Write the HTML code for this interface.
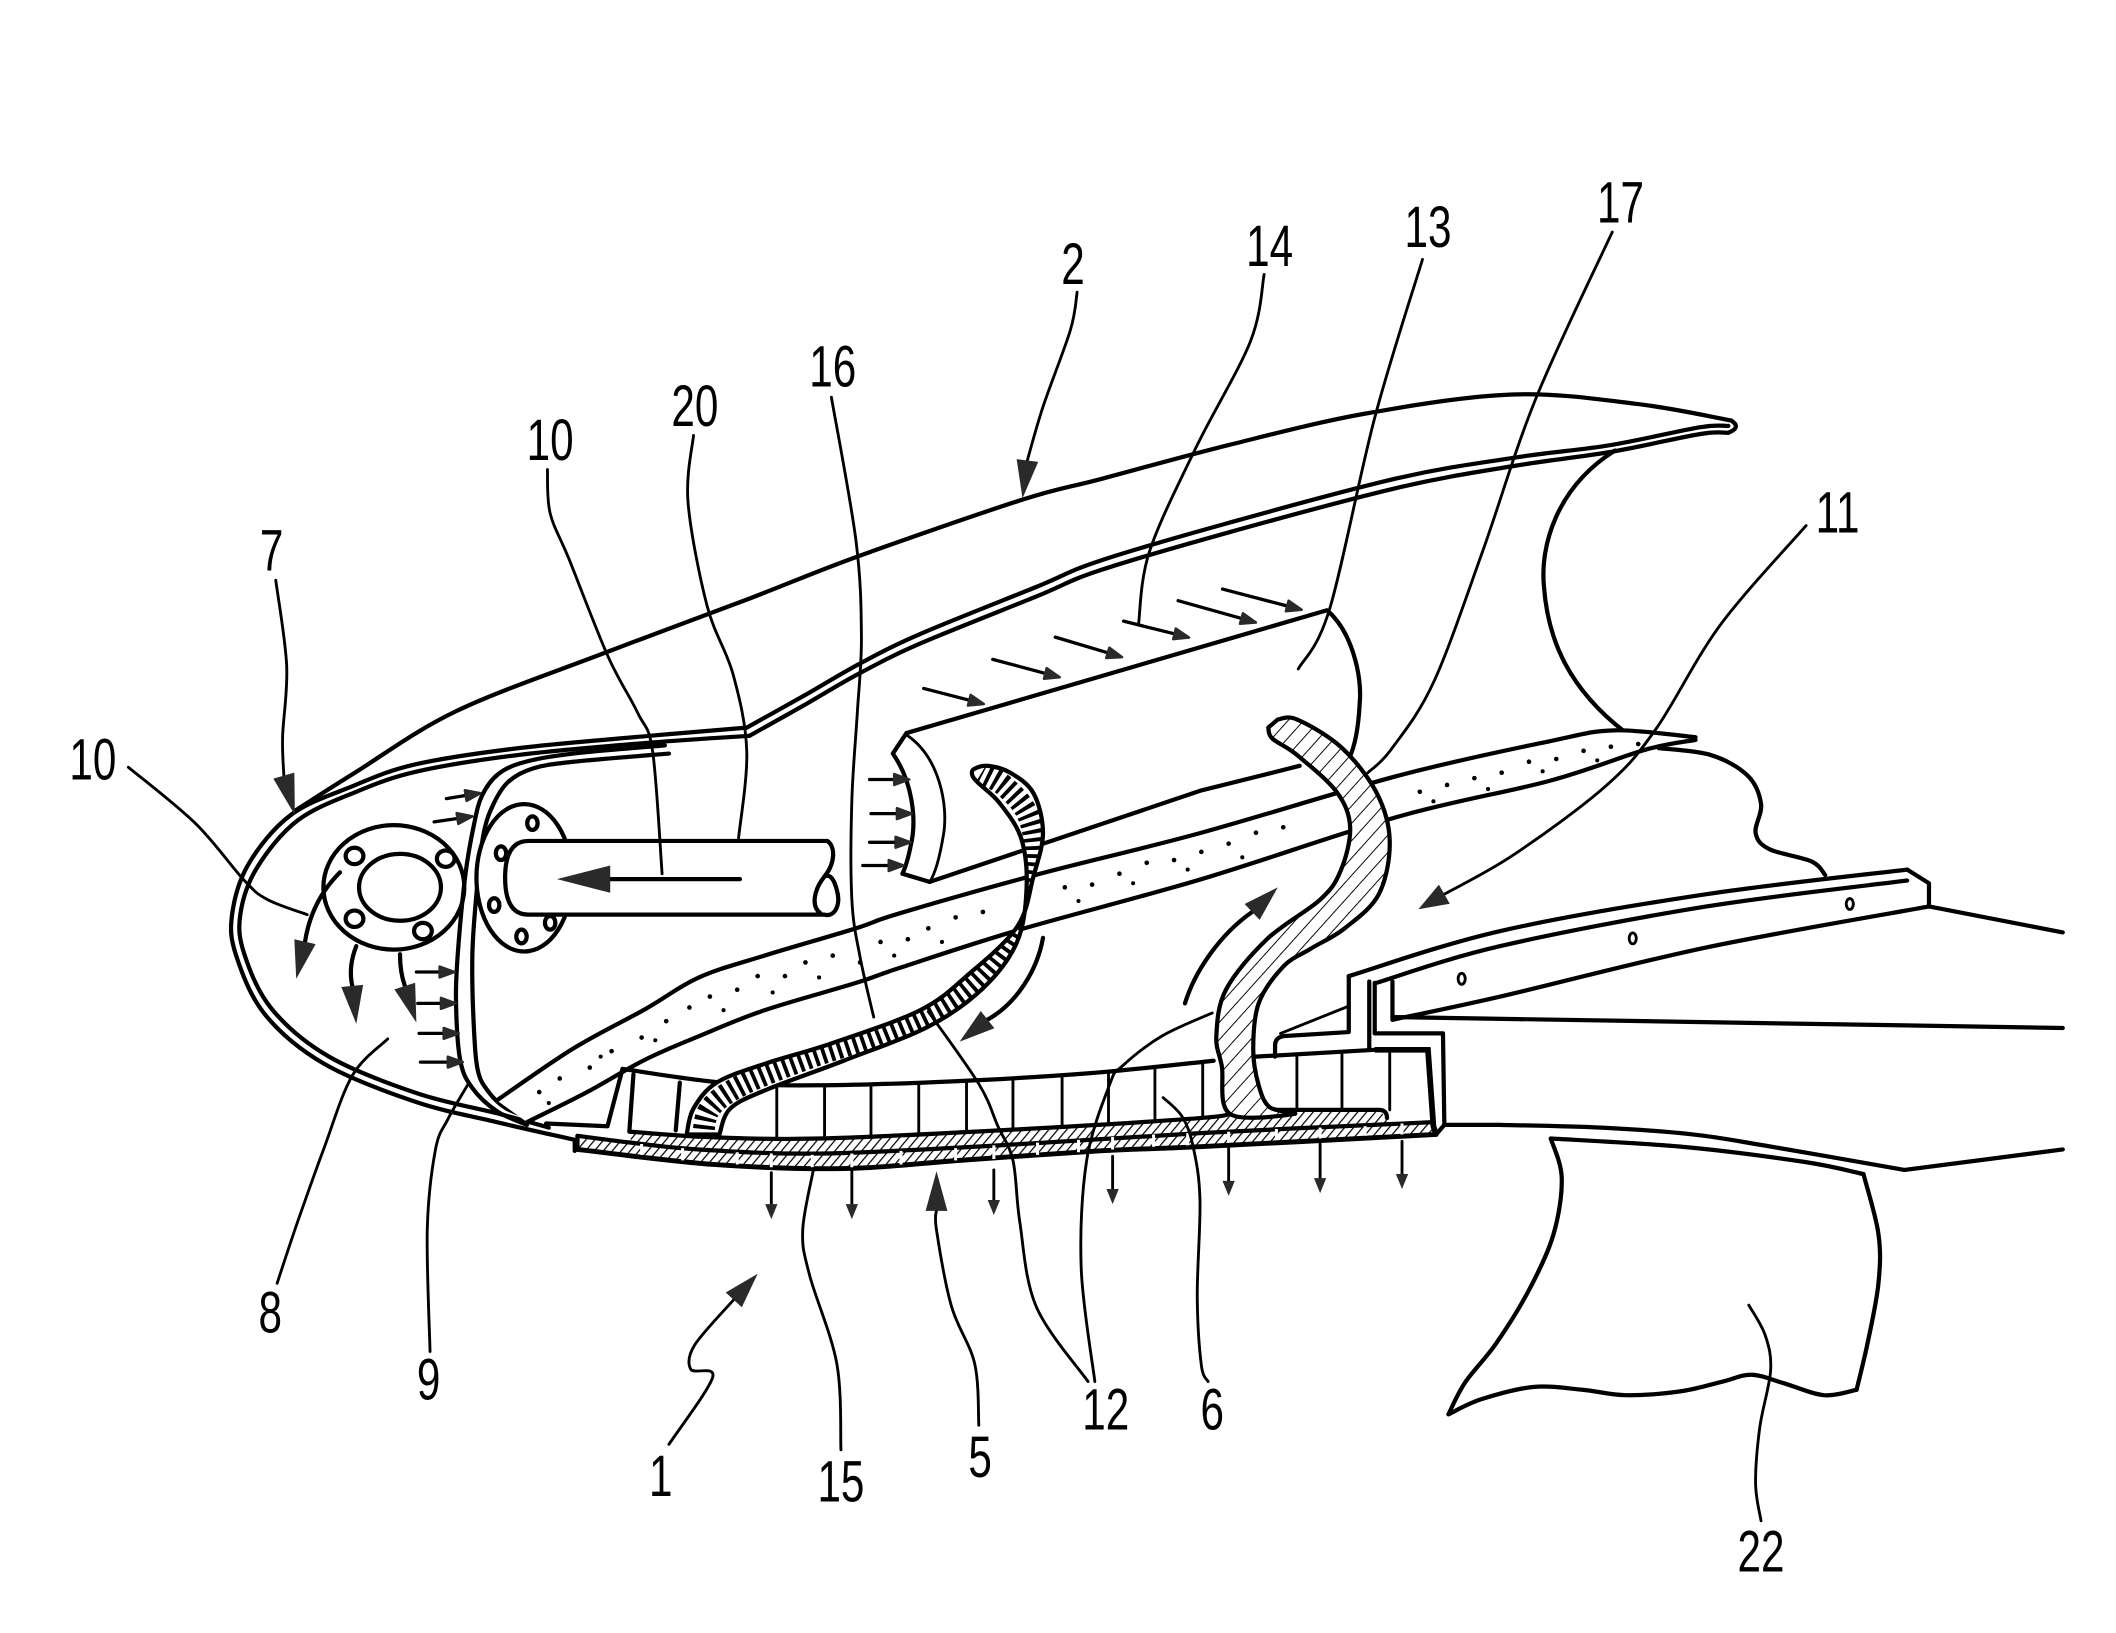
<!DOCTYPE html>
<html><head><meta charset="utf-8"><style>
html,body{margin:0;padding:0;background:#fff;}
svg{display:block;}
.k{fill:none;stroke:#000;stroke-width:3.1;stroke-linejoin:round;stroke-linecap:round;}
.t{fill:none;stroke:#000;stroke-width:2.1;stroke-linejoin:round;stroke-linecap:round;}
.f{fill:#2a2a2a;stroke:none;}
.f2{fill:#2a2a2a;stroke:#2a2a2a;stroke-width:1.8;stroke-linejoin:round;}
.lb{font-family:"Liberation Sans",Arial,sans-serif;font-size:43px;fill:#000;}
</style></head><body>
<svg xmlns="http://www.w3.org/2000/svg" width="2116" height="1633" viewBox="0 0 1550 1196.2" preserveAspectRatio="none">
<defs>
<pattern id="hp" width="5" height="5" patternUnits="userSpaceOnUse" patternTransform="rotate(40)"><rect width="5" height="5" fill="#fff"/><line x1="0" y1="0" x2="0" y2="5" stroke="#000" stroke-width="1.8"/></pattern>
<pattern id="hs" width="8.5" height="8.5" patternUnits="userSpaceOnUse" patternTransform="rotate(42)"><rect width="8.5" height="8.5" fill="#fff"/><line x1="0" y1="0" x2="0" y2="8.5" stroke="#000" stroke-width="1.4"/></pattern>
<clipPath id="c16"><path class="s z" d="M503,831 L508,812 L525,793 L561,779 L610,764 L674,740 L708,715 L745,679 L757,642 L764,610 L757,581 L740,566 L724,561 L714,563 L712,567 L716,573 L732,588 L748,614 L752,650 L745,690 L720,724 L680,752 L618,777 L562,798 L535,812 L527,831 Z"/></clipPath>
</defs>
<rect width="1550" height="1196.2" fill="#fff"/>

<!-- upper nacelle -->
<path class="k s" d="M216,594 L260,566 L334,521 L441,479 L545,440 L630,407 L749,366 L806,351 L900,326 L1000,303 L1108,289 L1200,296 L1268,308"/>
<path class="k" d="M1268,308 Q1276,313 1266,317"/>
<path class="k s" d="M1266,312 L1245,313 L1180,326 L1111,335 L1025,350 L900,383 L805,411 L759,430 L675,464 L630,486 L590,509 L547,533"/>
<path class="k s" d="M547,533 L476,539 L380,548 L304,560 L258,576 L213,597 L182,633 L170,670 L173,700 L194,743 L237,779 L304,807 L364,822 L421,835"/>
<path class="k s" d="M1266,317 L1245,318 L1180,331 L1111,341 L1025,357 L900,390 L805,418 L759,437 L675,471 L630,493 L590,516 L549,539"/>
<path class="k s" d="M549,539 L476,544 L380,553 L306,565 L261,580 L218,601 L188,636 L176,670 L179,699 L199,739 L241,774 L306,801 L366,816 L402,826"/>
<path class="k" d="M421,835 L421,843"/>
<path class="k s" d="M487,546 L420,552 L385,558 L365,567 L353,583 L347,605 L341,640 L336,690 L334,731 L337,776 L346,797 L364,814 L386,824"/>
<path class="k s" d="M490,552 L420,558 L390,563 L372,573 L361,590 L354,612 L349,655 L346,700 L347,750 L350,784 L358,800 L371,812 L390,819"/>
<path class="k" d="M1183,330 C1140,357 1128,400 1131,430 C1134,470 1150,505 1190,536"/>

<!-- left flange -->
<ellipse cx="288.5" cy="650" rx="51.6" ry="45.6" class="k"/>
<ellipse cx="293" cy="650" rx="30" ry="24.5" class="k"/>
<ellipse cx="259.7" cy="627" rx="6.5" ry="6" class="k"/>
<ellipse cx="326.5" cy="629" rx="6.5" ry="6" class="k"/>
<ellipse cx="259.7" cy="673" rx="6.5" ry="6" class="k"/>
<ellipse cx="309.8" cy="682" rx="6.5" ry="6" class="k"/>
<!-- nose flow arrows -->
<path class="k" d="M249,639 Q228,660 223.4,690"/>
<polygon class="f" points="217,717 231.2,691.6 215.6,688"/>
<path class="k" d="M261,693 Q255,708 258,722"/>
<polygon class="f" points="261,750 266,721.4 250,723"/>
<path class="k" d="M293,699 Q293,712 296.5,722"/>
<polygon class="f" points="305,749 304.1,719.9 288.9,724.7"/>
<!-- feather arrows at bulkhead -->
<g class="t" style="stroke-width:2.4">
<path d="M327,585 L341,582.7"/><path d="M318,602 L335,599.6"/>
<path d="M305,712 L322,712"/><path d="M306,735 L323,735"/><path d="M307,757 L325,757"/><path d="M308,778 L328,778"/>
</g>
<g class="f2">
<polygon points="352,581 341.8,586.7 340.5,578.8"/><polygon points="346,598 335.7,603.5 334.5,595.6"/>
<polygon points="333,712 322,708 322,716"/><polygon points="334,735 323,731 323,739"/><polygon points="336,757 325,753 325,761"/><polygon points="339,778 328,774 328,782"/>
</g>

<!-- pipe flange & pipe -->
<ellipse cx="384" cy="643" rx="35" ry="54" class="k" style="fill:#fff"/>
<g class="k">
<ellipse cx="390" cy="603" rx="3.8" ry="5"/><ellipse cx="367" cy="625" rx="3.8" ry="5"/><ellipse cx="362" cy="663" rx="3.8" ry="5"/><ellipse cx="382" cy="686" rx="3.8" ry="5"/><ellipse cx="403" cy="676" rx="3.8" ry="5"/>
</g>
<path class="k" style="fill:#fff" d="M606,616 L387,616 Q370,616 370,643 Q370,670 387,670 L604,670 C612,672 616,662 613,652 C611,644 608,640 604,642 C596,652 594,664 601,669"/>
<path class="k" d="M606,616 C612,620 612,632 604,642"/>
<path class="k" d="M542,644 L447,644"/>
<polygon class="f" points="408,644 447,634 447,654"/>

<!-- dotted band -->
<path fill="#fff" stroke="none" d="M364,806 L420,768 L473,739 L512,716 L560,700 L627,680 L659,669 L762,640 L880,610 L1025,568 L1135,543 L1183,535 L1242,540 L1206,549 L1135,572 L1025,598 L880,644 L747,681 L659,709 L627,720 L560,740 L512,759 L473,776 L430,800 L386,822 Z"/>
<path class="k s" d="M364,806 L420,768 L473,739 L512,716 L560,700 L627,680 L659,669 L762,640 L880,610 L1025,568 L1135,543 L1183,535 L1242,540"/>
<path class="k s" d="M386,822 L430,800 L473,776 L512,759 L560,740 L627,720 L659,709 L747,681 L880,644 L1025,598 L1135,572 L1206,549 L1242,542"/>
<g fill="#000">
<circle cx="395" cy="800" r="1.7"/><circle cx="410" cy="790" r="1.7"/><circle cx="432" cy="782" r="1.7"/><circle cx="448" cy="770" r="1.7"/><circle cx="470" cy="760" r="1.7"/><circle cx="488" cy="748" r="1.7"/><circle cx="505" cy="738" r="1.7"/><circle cx="520" cy="730" r="1.7"/><circle cx="540" cy="725" r="1.7"/><circle cx="555" cy="715" r="1.7"/><circle cx="575" cy="715" r="1.7"/><circle cx="590" cy="705" r="1.7"/><circle cx="610" cy="700" r="1.7"/><circle cx="630" cy="705" r="1.7"/><circle cx="645" cy="690" r="1.7"/><circle cx="665" cy="688" r="1.7"/><circle cx="680" cy="680" r="1.7"/><circle cx="700" cy="672" r="1.7"/><circle cx="720" cy="668" r="1.7"/><circle cx="780" cy="650" r="1.7"/><circle cx="800" cy="648" r="1.7"/><circle cx="820" cy="640" r="1.7"/><circle cx="840" cy="632" r="1.7"/><circle cx="860" cy="630" r="1.7"/><circle cx="880" cy="624" r="1.7"/><circle cx="900" cy="618" r="1.7"/><circle cx="920" cy="610" r="1.7"/><circle cx="940" cy="606" r="1.7"/><circle cx="1040" cy="580" r="1.7"/><circle cx="1060" cy="575" r="1.7"/><circle cx="1080" cy="570" r="1.7"/><circle cx="1100" cy="566" r="1.7"/><circle cx="1120" cy="558" r="1.7"/><circle cx="1140" cy="556" r="1.7"/><circle cx="1160" cy="550" r="1.7"/><circle cx="1180" cy="547" r="1.7"/><circle cx="1200" cy="545" r="1.7"/>
<circle cx="402" cy="808" r="1.5"/><circle cx="440" cy="774" r="1.5"/><circle cx="480" cy="762" r="1.5"/><circle cx="530" cy="740" r="1.5"/><circle cx="566" cy="727" r="1.5"/><circle cx="600" cy="716" r="1.5"/><circle cx="655" cy="700" r="1.5"/><circle cx="690" cy="690" r="1.5"/><circle cx="790" cy="660" r="1.5"/><circle cx="830" cy="647" r="1.5"/><circle cx="870" cy="637" r="1.5"/><circle cx="910" cy="628" r="1.5"/><circle cx="1050" cy="587" r="1.5"/><circle cx="1090" cy="578" r="1.5"/><circle cx="1130" cy="565" r="1.5"/><circle cx="1170" cy="557" r="1.5"/>
</g>
<path class="k s" d="M1215,548 L1253,553 L1280,568 L1290,589 L1286,610 L1296,622 L1327,631 L1337,641"/>

<!-- cylinder 13 -->
<path fill="#fff" stroke="none" d="M664,537 L972,447 C990,462 998,495 996,515 C995,535 992,548 988,556 L950,562 L880,579 L765,613 L681,646 L661,641 C668,620 672,590 655,552 Z"/>
<path class="k" d="M664,537 L972,447 C990,462 998,495 996,515 C995,535 992,548 988,556"/>
<path class="k" d="M681,646 L880,579 L952,561"/>
<path class="k" d="M664,537 L654,552 C668,572 672,600 667,620 C665,630 663,636 661,640 L681,646"/>
<path class="t" d="M665,539 C688,555 695,590 691,612 C688,630 685,640 681,646"/>
<!-- arrows 14 -->
<g class="t" style="stroke-width:2.4">
<path d="M676.6,504.3 L710,512.9"/><path d="M727.2,483 L765.7,493.3"/><path d="M773,466.7 L811.5,478.2"/><path d="M823,455 L860.3,464.3"/><path d="M863,440 L909.4,453"/><path d="M895.5,431.5 L942.9,443.9"/>
<path d="M637,571 L655,571"/><path d="M638,596 L657,596"/><path d="M637,617 L656,617"/><path d="M632,634 L651,634"/>
</g>
<g class="f2">
<polygon points="720.7,515.7 709,516.8 711,509"/><polygon points="776.3,496.1 764.7,497.2 766.7,489.4"/><polygon points="822,481.4 810.3,482 812.6,474.4"/><polygon points="871,467 859.4,468.2 861.3,460.4"/><polygon points="920,456 908.3,456.9 910.5,449.2"/><polygon points="953.5,446.7 941.9,447.8 943.9,440"/>
<polygon points="666,571 655,567 655,575"/><polygon points="668,596 657,592 657,600"/><polygon points="667,617 656,613 656,621"/><polygon points="662,634 651,630 651,638"/>
</g>

<!-- panel -->
<polygon fill="url(#hp)" stroke="none" points="462,829 520,833 600,834 732,828 879,819 901,815 928,813 1010,813 1016,819 1016,823.5 879,830 732,839 600,845 512,842 462,837"/>
<polygon fill="url(#hp)" stroke="none" points="423,832 462,837 512,842 600,845 732,839 879,830 1050,822 1052,831 879,840 806,843 703,850 618,856 523,853 423,842"/>
<path class="k s" d="M462,829 L520,833 L600,834 L732,828 L879,819 L901,815"/>
<path class="k" d="M928,813 L1010,813 Q1016,813 1016,819"/>
<path class="k s" d="M423,832 L462,837 L512,842 L600,845 L732,839 L879,830 L1050,822"/>
<path class="k s" style="stroke-width:3.6" d="M423,842 L523,853 L618,856 L703,850 L806,843 L879,840 L1052,831"/>
<path class="k" d="M1052,831 L1058,824 M423,832 L423,842"/>
<g stroke="#fff" stroke-width="2.2">
<path d="M470,838 v8 M500,841 v9 M540,844 v9 M565,845 v10 M595,846 v9 M624,845 v10 M660,843 v10 M700,841 v9 M728,839 v10 M760,837 v9 M790,835 v9 M815,833 v9 M845,831 v9 M870,830 v9 M900,829 v8 M935,827 v8 M967,826 v8 M1000,825 v7 M1027,823 v8"/>
</g>
<path class="k s" d="M456,783 L529,793 L600,795 L700,792 L800,786 L889,777"/>
<path class="k" d="M456,783 L445,825 L400,823 M464,787 L461,829 M498,793 L495,828"/>
<g class="t">
<path d="M569,794 L569,833 M604,795 L604,834 M638,794 L638,833 M673,793 L673,831 M708,791.5 L708,829 M742,789.5 L742,827 M778,787.3 L778,825 M812,784.8 L812,823 M846,781.3 L846,821 M881,778 L881,819"/>
<path d="M950,772.5 L950,813 M983,771 L983,813 M1018,770 L1018,813"/>
</g>
<!-- box end -->
<path class="k" d="M988,715 L988,756 L940,759 Q934,760 934,766 L934,774"/>
<path class="t" d="M938,757 L988,737"/>
<path class="k" d="M920,774 L1007,769"/>
<path class="k" d="M1003,719 L1003,769 M1007,720 L1007,757 L1057,757 L1058,824 L1098,824"/>
<path d="M1007,769 L1046,769 L1050,825 L1052,831" fill="none" stroke="#000" stroke-width="4.2"/>
<path class="k" d="M1020,719 L1020,747"/>

<!-- strip 16 -->
<path class="s z" fill="#fff" stroke="none" d="M503,831 L508,812 L525,793 L561,779 L610,764 L674,740 L708,715 L745,679 L757,642 L764,610 L757,581 L740,566 L724,561 L714,563 L712,567 L716,573 L732,588 L748,614 L752,650 L745,690 L720,724 L680,752 L618,777 L562,798 L535,812 L527,831 Z"/>
<g clip-path="url(#c16)">
<path class="s" fill="none" stroke="#000" stroke-width="16" stroke-dasharray="2.8 3.2" d="M515,833 L520,812 L543,795 L590,776 L645,757 L694,734 L727,705 L750,668 L758,628 L753,597 L736,576 L719,566"/>
</g>
<path class="k s z" d="M503,831 L508,812 L525,793 L561,779 L610,764 L674,740 L708,715 L745,679 L757,642 L764,610 L757,581 L740,566 L724,561 L714,563 L712,567 L716,573 L732,588 L748,614 L752,650 L745,690 L720,724 L680,752 L618,777 L562,798 L535,812 L527,831 Z"/>

<!-- spacer 12 -->
<path class="k s z" style="fill:url(#hs)" d="M936,527 L950,527 L982,547 L1008,580 L1018,616 L1010,655 L985,680 L960,695 L940,708 L922,735 L918,769 L922,795 L930,811 L948,816 L901,816 L895,781 L891,759 L898,725 L928,688 L967,659 L982,638 L989,606 L979,580 L950,553 L932,541 L929,533 Z"/>

<!-- rail & right structure -->
<path class="k s" d="M988,715 L1099,682 L1250,655 L1397,637"/>
<path class="k" d="M1397,637 L1413,647 L1413,664"/>
<path class="k s" d="M1008,720 L1099,693 L1250,664 L1397,645"/>
<path class="k s" d="M1020,747 L1099,730 L1250,694 L1413,664"/>
<path class="k" d="M1413,664 L1511,683"/>
<path class="k" d="M1020,745 L1511,753"/>
<g class="t"><ellipse cx="1070.7" cy="717" rx="2.6" ry="4"/><ellipse cx="1196" cy="687.4" rx="2.6" ry="4"/><ellipse cx="1355" cy="662.2" rx="2.6" ry="4"/></g>
<path class="k s" d="M1098,824 L1173,826 L1240,831 L1292,839 L1395,857"/>
<path class="k" d="M1395,857 L1511,842"/>
<!-- shape 22 -->
<path class="k s" d="M1136,834 L1144,863 L1138,904 L1120,945 L1096,984 L1073,1013 L1061,1036"/>
<path class="k s" d="M1061,1036 L1085,1025 L1123,1016 L1159,1018 L1191,1022 L1232,1019 L1262,1012 L1283,1007 L1306,1013 L1336,1022 L1360,1018"/>
<path class="k s" d="M1360,1018 L1368,984 L1376,940 L1376,904 L1365,860"/>
<path class="k s" d="M1136,834 L1232,840 L1321,851 L1365,860"/>

<!-- flow arrows -->
<path class="k" d="M868,735 C875,712 893,685 917.2,668"/>
<polygon class="f" points="936,650 922.7,673.8 911.7,662.2"/>
<path class="k" d="M764,687 C760,710 745,735 723.4,746.9"/>
<polygon class="f" points="703,763 728.4,753.2 718.4,740.6"/>

<!-- small down arrows -->
<g class="t">
<path d="M565,859 L565,884 M624,857 L624,884 M728,857 L728,881 M815,847 L815,873 M900,841 L900,867 M967,838 L967,865 M1027,836 L1027,862"/>
</g>
<g class="f">
<polygon points="565,893 560.5,882 569.5,882"/><polygon points="624,893 619.5,882 628.5,882"/><polygon points="728,890 723.5,879 732.5,879"/><polygon points="815,882 810.5,871 819.5,871"/><polygon points="900,876 895.5,865 904.5,865"/><polygon points="967,874 962.5,863 971.5,863"/><polygon points="1027,871 1022.5,860 1031.5,860"/>
</g>

<!-- leaders -->
<path class="t s" d="M789,214 L784,242 L764,298 L752.6,337"/>
<polygon class="f" points="749,365 760.5,338.3 744.7,336.3"/>
<path class="t s" d="M926,201 L916,250 L876,328 L842,404 L834,457"/>
<path class="t s" d="M1042,190 L1007,306 L974,446 L951,490"/>
<path class="t s" d="M1181,170 L1125,292 L1086,404 L1050,500 L1019,549 L1002,566"/>
<path class="t s" d="M609,291 L627,396 L631,466 L628,522 L624,586 L624,659 L630,701 L640,745"/>
<path class="t s" d="M508,319 L504,368 L518,444 L537,494 L547,550 L541,614"/>
<path class="t s" d="M401,344 L403,376 L417,410 L445,480 L467,522 L478,550 L485,640"/>
<path class="t s" d="M1323,385 L1260,458 L1213,534 L1176,576 L1109,626 L1058,655"/>
<polygon class="f" points="1039,666 1062,662 1054,648"/>
<path class="t s" d="M202,425 L210,488 L207,540 L207.9,568"/>
<polygon class="f" points="216,597 215.6,566 200.2,570.4"/>
<path class="t s" d="M94,562 L143,603 L179,645 L196,659 L225,670"/>
<path class="t s" d="M284,761 L258,788 L237,842 L218,895 L203,940"/>
<path class="t s" d="M343,794 L328,820 L319,842 L313,900 L315,990"/>
<path class="t s" d="M490,1058 L522,1009 L506,1003 L509,985 L537.5,952"/>
<polygon class="f" points="555,933 543.4,957.6 531.6,946.8"/>
<path class="t s" d="M616,1062 L613,999 L593,934 L588,901 L596,856"/>
<path class="t s" d="M717,1044 L714,999 L697,957 L686,901 L686,886"/>
<polygon class="f" points="686,858 678,887 694,887"/>
<path class="t s" d="M797,1012 L759,957 L747,895 L742,850 L731,825 L717,794 L680,741"/>
<path class="t s" d="M802,1012 L792,929 L796,850 L813,794 L822,781 L851,759 L888,742"/>
<path class="t s" d="M852,804 L866,818 L874,840 L879,879 L877,950 L880,1000 L885,1012"/>
<path class="t s" d="M1281,956 L1293,978 L1297,1004 L1289,1046 L1286,1087 L1290,1114"/>

<!-- labels -->
<g class="lb" text-anchor="middle">
<text transform="translate(786,208) scale(0.72,1)">2</text>
<text transform="translate(930,195) scale(0.72,1)">14</text>
<text transform="translate(1046,181) scale(0.72,1)">13</text>
<text transform="translate(1187,163) scale(0.72,1)">17</text>
<text transform="translate(610,283) scale(0.72,1)">16</text>
<text transform="translate(509,312) scale(0.72,1)">20</text>
<text transform="translate(403,337) scale(0.72,1)">10</text>
<text transform="translate(1346,390) scale(0.72,1)">11</text>
<text transform="translate(199,418) scale(0.72,1)">7</text>
<text transform="translate(68,571) scale(0.72,1)">10</text>
<text transform="translate(198,976) scale(0.72,1)">8</text>
<text transform="translate(314,1025) scale(0.72,1)">9</text>
<text transform="translate(810,1047) scale(0.72,1)">12</text>
<text transform="translate(888,1047) scale(0.72,1)">6</text>
<text transform="translate(718,1082) scale(0.72,1)">5</text>
<text transform="translate(616,1100) scale(0.72,1)">15</text>
<text transform="translate(484,1096) scale(0.72,1)">1</text>
<text transform="translate(1290,1151) scale(0.72,1)">22</text>
</g>
</svg>
<script>
(function(){
var ps=document.querySelectorAll('path.s');
for(var k=0;k<ps.length;k++){
var p=ps[k];var n=p.getAttribute('d').match(/-?\d+(\.\d+)?/g);if(!n)continue;n=n.map(Number);
var pts=[];for(var i=0;i+1<n.length;i+=2)pts.push([n[i],n[i+1]]);
if(pts.length<3)continue;
var d='M'+pts[0][0]+','+pts[0][1];
for(var i=0;i<pts.length-1;i++){
var p0=pts[i-1]||pts[i],p1=pts[i],p2=pts[i+1],p3=pts[i+2]||pts[i+1];
var c1x=p1[0]+(p2[0]-p0[0])/6,c1y=p1[1]+(p2[1]-p0[1])/6,c2x=p2[0]-(p3[0]-p1[0])/6,c2y=p2[1]-(p3[1]-p1[1])/6;
d+='C'+c1x.toFixed(1)+','+c1y.toFixed(1)+' '+c2x.toFixed(1)+','+c2y.toFixed(1)+' '+p2[0]+','+p2[1];}
if(p.classList.contains('z'))d+='Z';
p.setAttribute('d',d);}
})();
</script>
</body></html>
